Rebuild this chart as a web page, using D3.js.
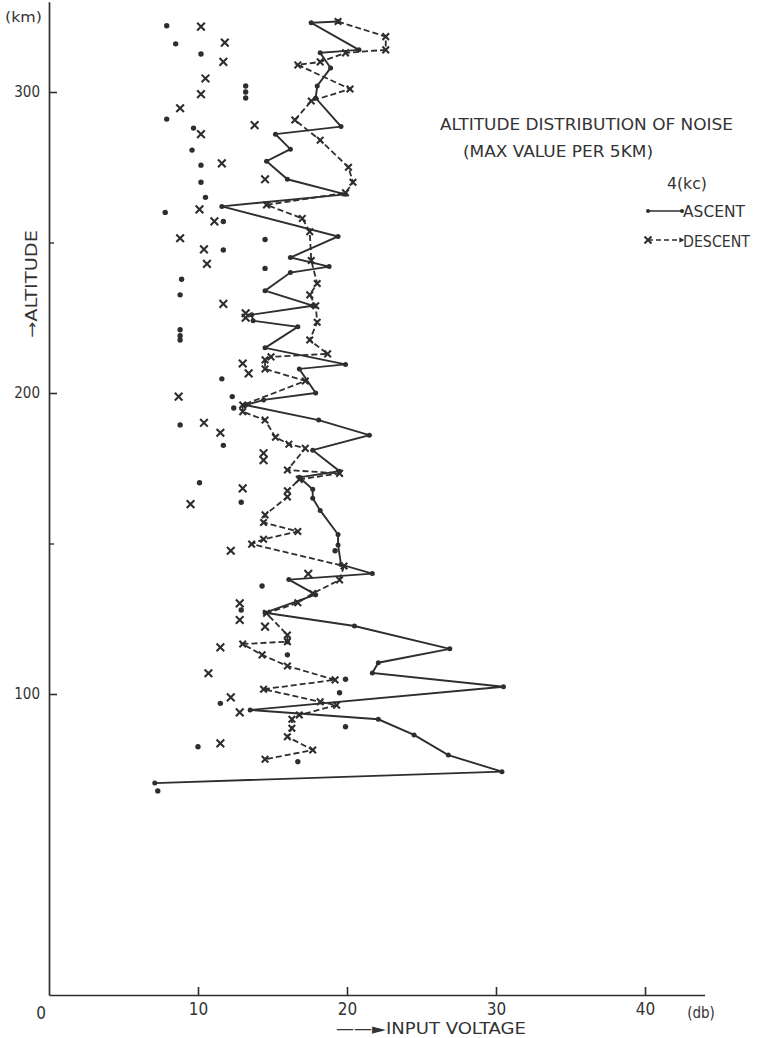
<!DOCTYPE html>
<html>
<head>
<meta charset="utf-8">
<script src="https://cdn.jsdelivr.net/npm/d3@7"></script>
<style>
  body { margin: 0; background: #fff; }
  svg text { font-family: "DejaVu Sans Condensed", "DejaVu Sans", sans-serif; fill: #333; }
</style>
</head>
<body>
<svg id="chart" width="762" height="1038"></svg>
<script>
// [altitude km, input voltage db]
var ascent = [[323.4,19.4],[323,17.6],[314,20.8],[313,18.2],[308,18.9],[302,18.0],[298,17.9],[288.5,19.6],[286,15.2],
  [281,16.2],[277,14.6],[271,16.0],[266,19.9],[262,11.6],[252,19.4],[245,16.2],[242,18.8],[240,16.2],
  [234,14.5],[229,17.7],[226,13.6],[224,13.7],[222,16.7],[215,14.5],[209.5,19.9],[208,16.8],[200,17.9],
  [197.7,14.4],[196,13.2],[191,18.1],[186,21.5],[181,17.7],[174,19.5],[172,16.8],[168,17.7],[165,17.7],
  [161,18.2],[153,19.4],[149.5,19.4],[143,19.6],[140,21.7],[138,16.1],[133,17.9],[127,14.5],[122.6,20.5],
  [115,26.9],[110.4,22.1],[107,21.7],[102.4,30.5],[94.7,13.5],[91.6,22.1],[86.4,24.5],[79.7,26.8],
  [74.2,30.4],[70.4,7.1]];

var descent = [[323.4,19.4],[318.4,22.6],[314,22.6],[313,19.9],[310,18.2],[309,16.7],[301,20.2],[297,17.6],
  [290.7,16.5],[284,18.2],[275,20.1],[270,20.4],[266.5,19.9],[262.5,14.6],[258,17.0],[253.6,17.5],
  [244,17.6],[236.4,18.0],[232.6,17.5],[229,17.9],[223.5,18.0],[217.6,17.5],[213,18.7],[212,14.9],
  [211,14.5],[208,14.5],[204,17.2],[196,13.0],[193.8,13.0],[191,14.5],[185.3,15.2],[183,16.1],
  [181.6,17.2],[174.4,16.0],[173.3,19.5],[171.3,16.8],[167.5,16.0],[165.5,16.0],[159.5,14.5],[157,14.4],
  [154,16.7],[151.4,14.4],[149.8,13.6],[142.5,19.8],[137.9,19.5],[133.4,17.7],[130.3,16.7],[126.8,14.6],
  [119.6,16.0],[117.4,16.0],[116.6,13.0],[113,14.3],[109.3,16.0],[104.7,19.2],[101.6,14.4],[97.4,18.2],
  [96.3,19.3],[93,16.8],[91.6,16.3],[88.6,16.3],[85.8,16.0],[81.4,17.7],[78.3,14.5]];

// points not joined by the lines
var looseDots = [[322,7.9],[316,8.5],[312.6,10.2],[302,13.2],[300,13.2],[298,13.2],[291,7.9],[288,9.7],
  [280.7,9.6],[275.7,10.2],[270,10.2],[265,10.5],[260,7.8],[257,11.7],[251,14.5],[247.5,11.7],
  [241.4,14.5],[237.8,8.9],[232.6,8.8],[221,8.8],[219,8.8],[217.6,8.8],[204.7,11.6],[198.8,12.3],
  [195,12.4],[189.4,8.8],[182.6,11.7],[170.2,10.1],[163.7,12.9],[147.6,19.2],[135.9,14.3],[127.9,12.9],
  [113,16.0],[117.4,16.0],[104.9,19.9],[100.4,19.5],[96.9,11.5],[89.1,19.9],[82.5,10.0],[77.5,16.7],
  [67.8,7.3]];

var looseCrosses = [[321.7,10.2],[316.4,11.8],[310,11.7],[304.5,10.5],[299.3,10.2],[294.6,8.8],[289,13.8],
  [286,10.2],[276.3,11.6],[271,14.5],[261,10.1],[257,11.1],[251.4,8.8],[247.7,10.4],[242.9,10.6],
  [229.6,11.7],[226.5,13.2],[225,13.2],[209.8,13.0],[206.5,13.4],[198.8,8.7],[190.1,10.4],[186.8,11.5],
  [180,14.4],[177.7,14.4],[168.3,13.0],[163.1,9.5],[147.6,12.2],[139.9,17.4],[130.1,12.8],[124.6,12.8],
  [122.4,14.5],[115.5,11.5],[106.9,10.7],[98.9,12.2],[93.9,12.8],[83.6,11.5]];

var yTicks = [100, 200, 300],
    yMinorTicks = [150, 250],
    xTicks = [10, 20, 30, 40];

var ink = "#2e2e2e";
var svg = d3.select("#chart");

var x = d3.scaleLinear().domain([0, 44]).range([49, 704.6]);
var y = d3.scaleLinear().domain([0, 330]).range([995, 1.7]);

// y axis, ticks pointing into the plot
svg.append("g")
    .attr("transform", "translate(" + x(0) + ",0)")
    .call(d3.axisLeft(y).tickValues(yTicks).tickSizeInner(-8).tickSizeOuter(0).tickPadding(9))
    .call(function(g) {
        g.select(".domain").attr("stroke", ink).attr("stroke-width", 1.7);
        g.selectAll(".tick line").attr("stroke", ink).attr("stroke-width", 1.6);
        g.selectAll(".tick text").attr("font-size", 15).style("font-family", "DejaVu Sans Condensed, sans-serif").attr("fill", ink);
    });

svg.append("g")
    .attr("transform", "translate(" + x(0) + ",0)")
    .call(d3.axisLeft(y).tickValues(yMinorTicks).tickSizeInner(-5).tickSizeOuter(0).tickFormat(""))
    .call(function(g) {
        g.select(".domain").remove();
        g.selectAll(".tick line").attr("stroke", ink).attr("stroke-width", 1.4);
    });

// x axis, ticks pointing up
svg.append("g")
    .attr("transform", "translate(0," + y(0) + ")")
    .call(d3.axisBottom(x).tickValues(xTicks).tickSizeInner(-8).tickSizeOuter(0).tickPadding(8))
    .call(function(g) {
        g.select(".domain").attr("stroke", ink).attr("stroke-width", 1.7);
        g.selectAll(".tick line").attr("stroke", ink).attr("stroke-width", 1.6);
        g.selectAll(".tick text").attr("font-size", 17).style("font-family", "DejaVu Sans Condensed, sans-serif").attr("fill", ink);
    });

svg.append("text").attr("x", 41).attr("y", 1019).attr("text-anchor", "middle")
    .attr("font-size", 17).text("0");
svg.append("text").attr("x", 701).attr("y", 1018).attr("text-anchor", "middle")
    .attr("font-size", 15).text("(db)");
svg.append("text").attr("x", 5).attr("y", 22).attr("font-size", 14)
    .attr("textLength", 37).attr("lengthAdjust", "spacingAndGlyphs").text("(km)");

// axis titles
svg.append("text").attr("x", 336).attr("y", 1034).attr("font-size", 15)
    .attr("textLength", 190).attr("lengthAdjust", "spacingAndGlyphs").text("\u2014\u2014\u25BAINPUT VOLTAGE");
svg.append("text").attr("transform", "translate(37,338) rotate(-90)").attr("font-size", 15)
    .attr("textLength", 108).attr("lengthAdjust", "spacingAndGlyphs").text("\u2192ALTITUDE");

// lines
var line = d3.line()
    .x(function(d) { return x(d[1]); })
    .y(function(d) { return y(d[0]); });

svg.append("path").datum(descent)
    .attr("d", line).attr("fill", "none").attr("stroke", ink)
    .attr("stroke-width", 1.8).attr("stroke-dasharray", "6,3");

svg.append("path").datum(ascent)
    .attr("d", line).attr("fill", "none").attr("stroke", ink).attr("stroke-width", 1.9);

var cross = d3.symbol().type(d3.symbolX || d3.symbolCross).size(34);

function dots(data, r) {
    svg.append("g").selectAll("circle").data(data).enter().append("circle")
        .attr("cx", function(d) { return x(d[1]); })
        .attr("cy", function(d) { return y(d[0]); })
        .attr("r", r).attr("fill", ink);
}
function crosses(data, size) {
    svg.append("g").selectAll("path").data(data).enter().append("path")
        .attr("d", d3.symbol().type(d3.symbolX || d3.symbolCross).size(size))
        .attr("transform", function(d) { return "translate(" + x(d[1]) + "," + y(d[0]) + ")"; })
        .attr("fill", "none").attr("stroke", ink).attr("stroke-width", 2.1);
}

crosses(descent, 30);
dots(ascent, 2.5);
dots(looseDots, 2.7);
crosses(looseCrosses, 40);

// title and legend
svg.append("text").attr("x", 440).attr("y", 130).attr("font-size", 16)
    .attr("textLength", 293).attr("lengthAdjust", "spacingAndGlyphs").text("ALTITUDE DISTRIBUTION OF NOISE");
svg.append("text").attr("x", 463).attr("y", 157).attr("font-size", 16)
    .attr("textLength", 190).attr("lengthAdjust", "spacingAndGlyphs").text("(MAX VALUE PER 5KM)");
svg.append("text").attr("x", 667).attr("y", 189).attr("font-size", 15)
    .attr("textLength", 40).attr("lengthAdjust", "spacingAndGlyphs").text("4(kc)");

var legend = svg.append("g");
legend.append("line").attr("x1", 648).attr("x2", 682).attr("y1", 211).attr("y2", 211)
    .attr("stroke", ink).attr("stroke-width", 1.7);
legend.append("circle").attr("cx", 648).attr("cy", 211).attr("r", 2).attr("fill", ink);
legend.append("circle").attr("cx", 682).attr("cy", 211).attr("r", 2).attr("fill", ink);
legend.append("text").attr("x", 683).attr("y", 217).attr("font-size", 16)
    .attr("textLength", 62).attr("lengthAdjust", "spacingAndGlyphs").text("ASCENT");
legend.append("line").attr("x1", 648).attr("x2", 682).attr("y1", 240).attr("y2", 240)
    .attr("stroke", ink).attr("stroke-width", 1.7).attr("stroke-dasharray", "5,3");
legend.append("path").attr("d", cross).attr("transform", "translate(648,240)")
    .attr("fill", "none").attr("stroke", ink).attr("stroke-width", 2);
legend.append("path").attr("d", d3.symbol().type(d3.symbolTriangle).size(14))
    .attr("transform", "translate(681,240) rotate(90)").attr("fill", ink);
legend.append("text").attr("x", 683).attr("y", 247).attr("font-size", 16)
    .attr("textLength", 67).attr("lengthAdjust", "spacingAndGlyphs").text("DESCENT");
</script>
</body>
</html>
